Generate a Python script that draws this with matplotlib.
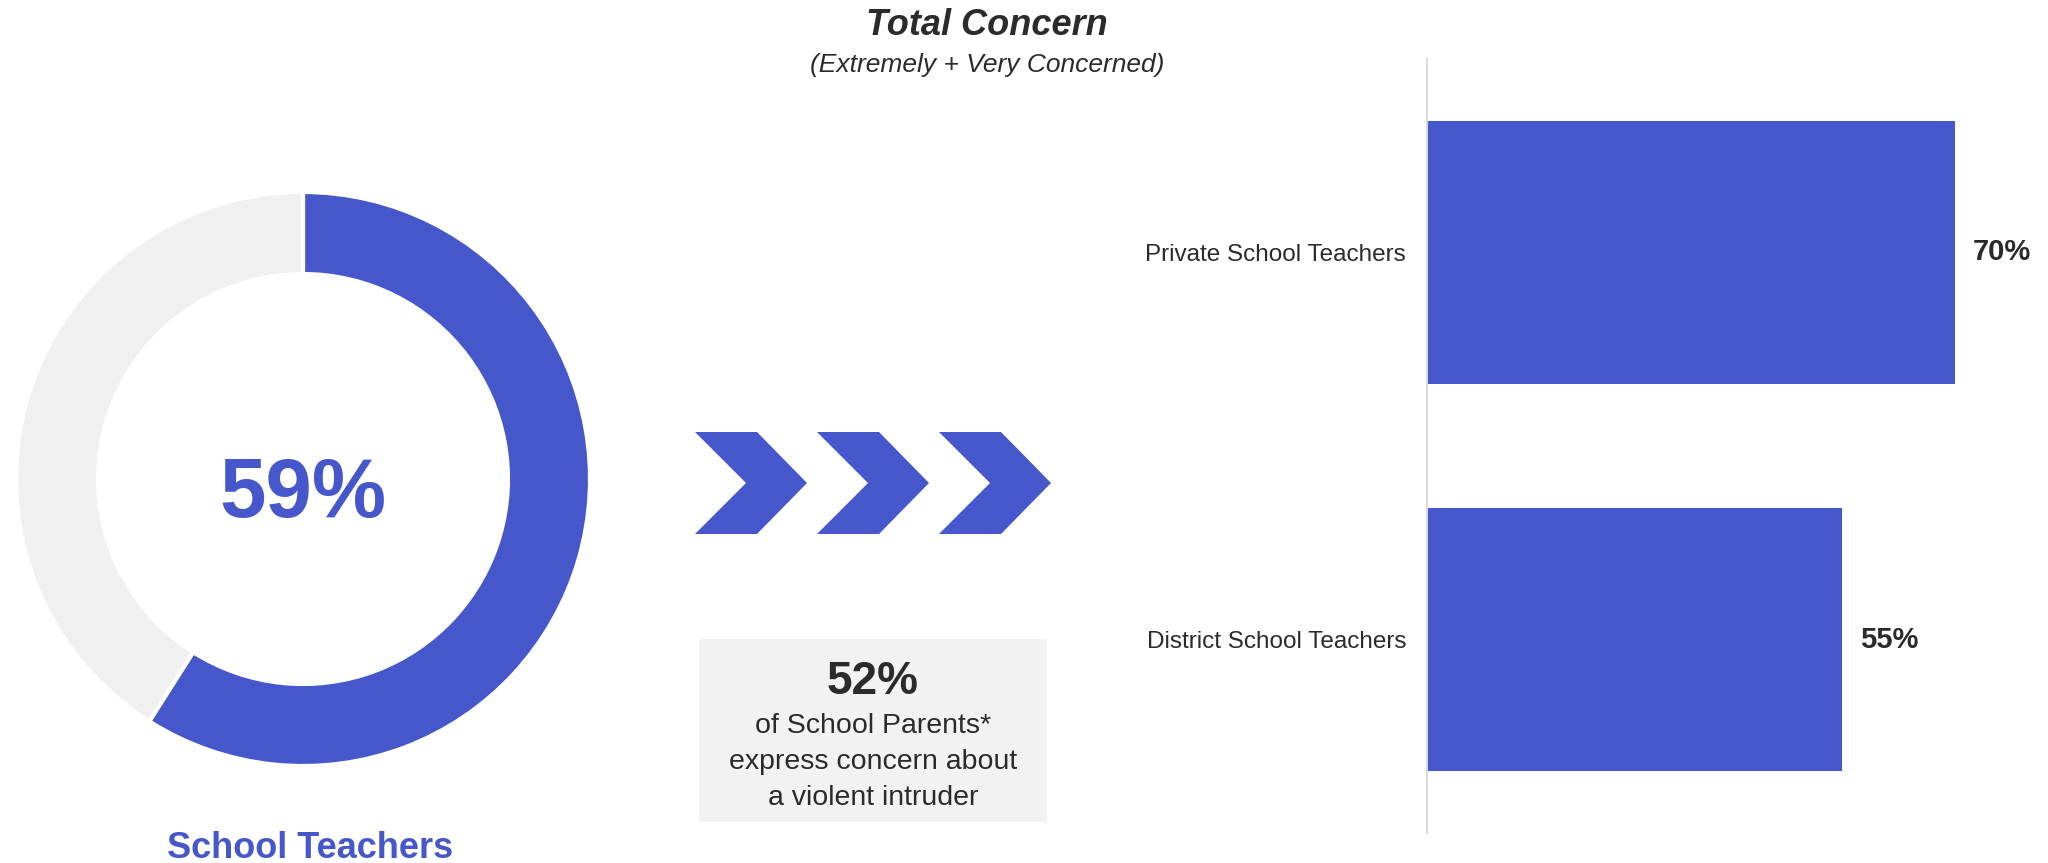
import matplotlib
matplotlib.use("Agg")
import matplotlib.pyplot as plt
from matplotlib.patches import Polygon, Rectangle

plt.rcParams['font.family'] = ['Liberation Sans', 'DejaVu Sans']

# data
donut_label = 'School Teachers'
donut_value = 59
parents_value = 52
parents_text = ['of School Parents*', 'express concern about', 'a violent intruder']
bar_categories = ['Private School Teachers', 'District School Teachers']
bar_values = [70, 55]

BLUE = '#4657cc'
GRAY = '#f0f0f0'
DARK = '#2b2b2b'
W, H = 2048, 863

fig = plt.figure(figsize=(W / 100, H / 100), dpi=100)

# overlay in pixel coordinates for titles, chevrons and the note box
ov = fig.add_axes([0, 0, 1, 1])
ov.set_xlim(0, W)
ov.set_ylim(H, 0)
ov.axis('off')

ov.text(987, 35, 'Total Concern', ha='center', va='baseline', fontsize=26,
        fontweight='bold', style='italic', color=DARK)
ov.text(987, 72, '(Extremely + Very Concerned)', ha='center', va='baseline',
        fontsize=19, style='italic', color=DARK)

# chevrons
def chevron(x0, y0, w=112, notch=51, h=102, flat=62):
    pts = [(x0, y0), (x0 + flat, y0), (x0 + w, y0 + h / 2),
           (x0 + flat, y0 + h), (x0, y0 + h), (x0 + notch, y0 + h / 2)]
    return Polygon(pts, closed=True, facecolor=BLUE, edgecolor='none')

for x0 in (695, 817, 939):
    ov.add_patch(chevron(x0, 432))

# note box
ov.add_patch(Rectangle((699, 639), 348, 183, facecolor='#f2f2f2', edgecolor='none'))
ov.text(873, 694, f'{parents_value}%', ha='center', va='baseline', fontsize=33,
        fontweight='bold', color=DARK)
for i, line in enumerate(parents_text):
    ov.text(873, 733 + i * 36, line, ha='center', va='baseline', fontsize=20.5, color=DARK)

ov.text(310, 858, donut_label, ha='center', va='baseline', fontsize=26,
        fontweight='bold', color=BLUE)

# donut
cx, cy, half, R = 303, 479, 290, 287
ax_d = fig.add_axes([(cx - half) / W, (H - cy - half) / H, 2 * half / W, 2 * half / H])
ax_d.pie([donut_value, 100 - donut_value], colors=[BLUE, GRAY], startangle=90,
         counterclock=False, radius=1,
         wedgeprops=dict(width=82 / R, edgecolor='white', linewidth=3))
lim = half / R
ax_d.set_xlim(-lim, lim)
ax_d.set_ylim(-lim, lim)
ax_d.set_aspect('equal')
ax_d.axis('off')
ax_d.text(0, -38 / R, f'{donut_value}%', ha='center', va='baseline', fontsize=60,
          fontweight='bold', color=BLUE)

# bar chart
ax_b = fig.add_axes([1427 / W, 1 - 833 / H, 603 / W, 774 / H])
ypos = range(len(bar_categories))
ax_b.barh(ypos, bar_values, height=0.68, color=BLUE)
ax_b.set_ylim(1.5, -0.5)
ax_b.set_xlim(0, 80)
ax_b.set_yticks(list(ypos))
ax_b.set_yticklabels(bar_categories, fontsize=17.5, color=DARK)
ax_b.set_xticks([])
ax_b.tick_params(axis='y', length=0, pad=15)
for s in ('top', 'right', 'bottom'):
    ax_b.spines[s].set_visible(False)
ax_b.spines['left'].set_color('#d9d9d9')
ax_b.spines['left'].set_linewidth(1.5)
for y, v in zip(ypos, bar_values):
    ax_b.annotate(f'{v}%', (v, y), xytext=(18, 0), textcoords='offset pixels',
                  ha='left', va='center', fontsize=21, fontweight='bold',
                  color=DARK, annotation_clip=False)

fig.savefig('out.png', dpi=100, facecolor='white')
